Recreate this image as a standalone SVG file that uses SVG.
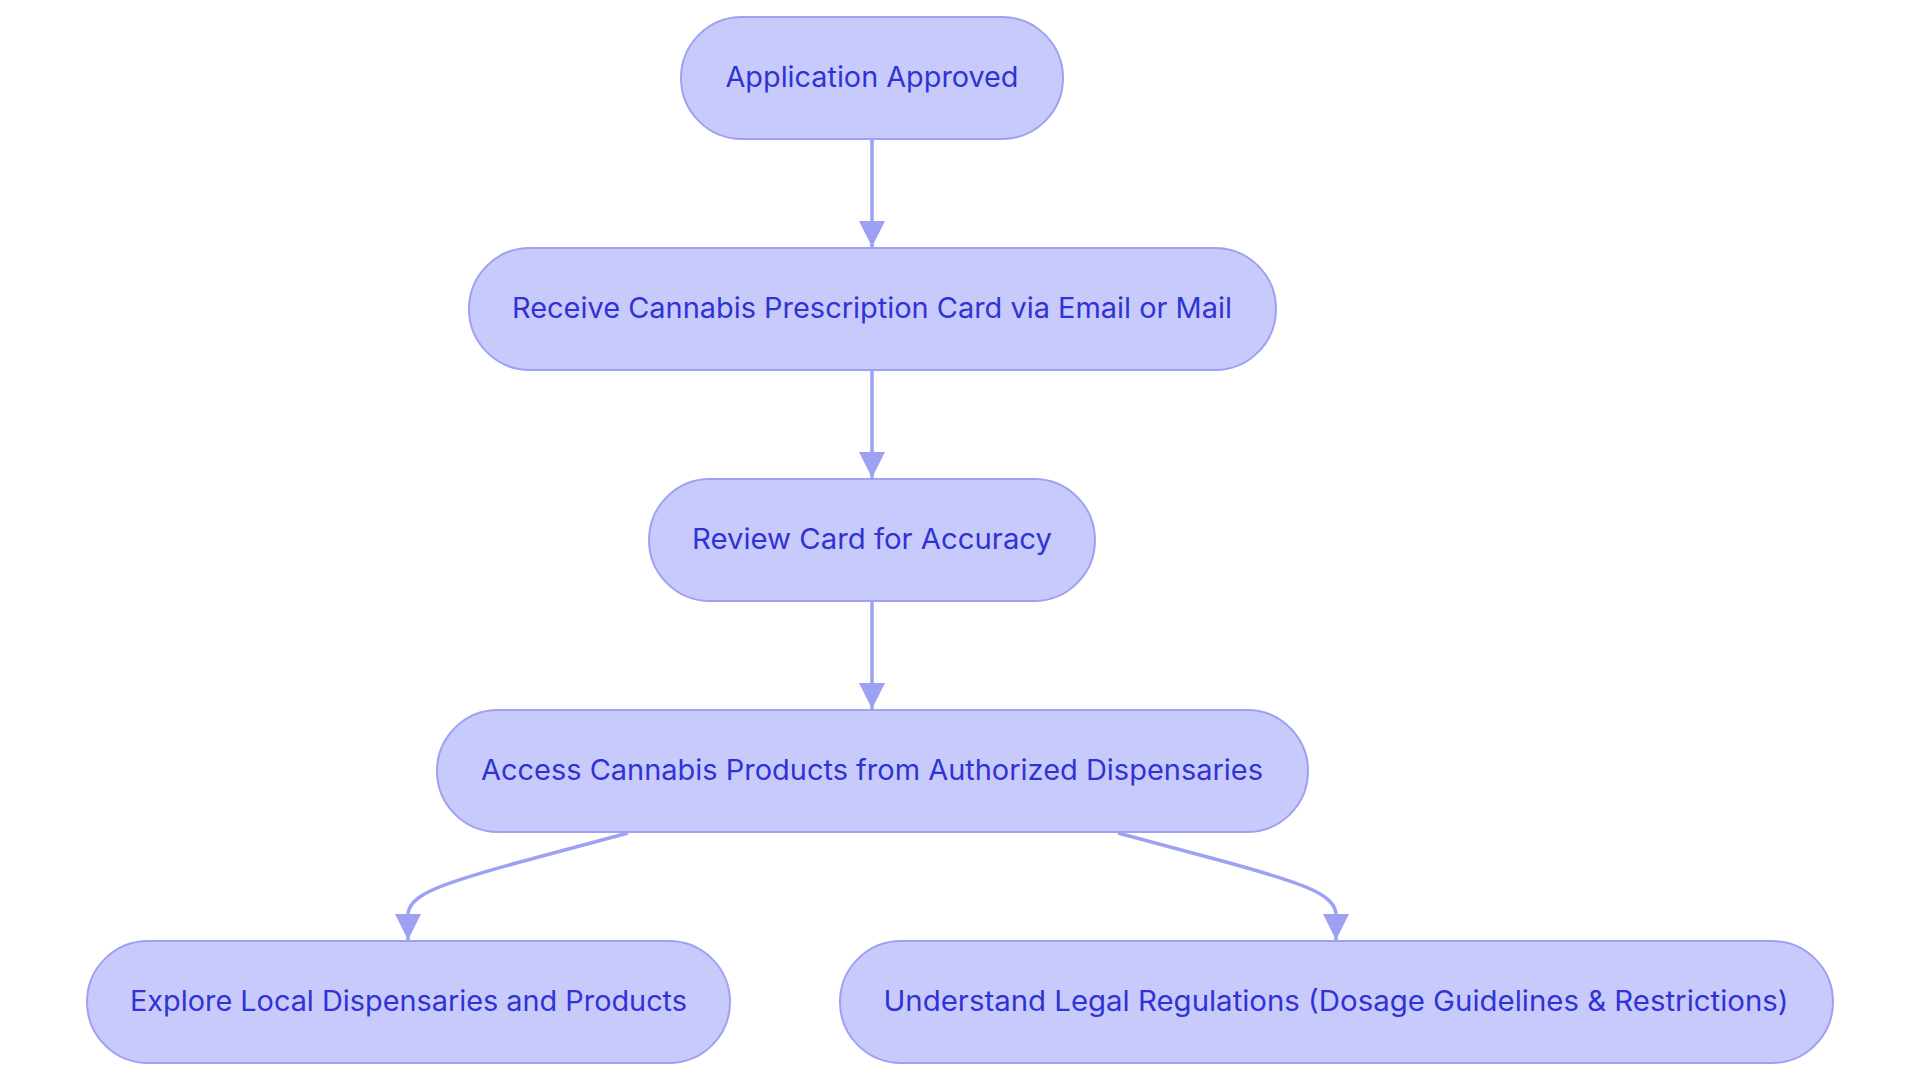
<svg xmlns="http://www.w3.org/2000/svg" width="1920" height="1083" viewBox="0 0 1920 1083">
<style>
.node rect{fill:#C9CAFC;stroke:#9EA1F1;stroke-width:2}
.node text{font-family:Inter,"Noto Sans","Liberation Sans",sans-serif;font-size:28px;fill:#2F33D3;text-anchor:middle}
.edge{fill:none;stroke:#9EA1F1;stroke-width:3.5}
</style>
<defs>
<marker id="arr" viewBox="0 0 10 10" refX="10" refY="5" markerUnits="userSpaceOnUse" markerWidth="26" markerHeight="27" orient="auto">
<path d="M0,0 L10,5 L0,10 z" fill="#9EA1F1"/>
</marker>
</defs>
<rect width="1920" height="1083" fill="#ffffff"/>
<g id="connectors">
<path class="edge" d="M872,139 L872,247" marker-end="url(#arr)"/>
<path class="edge" d="M872,370 L872,478" marker-end="url(#arr)"/>
<path class="edge" d="M872,601 L872,709" marker-end="url(#arr)"/>
<path class="edge" d="M628,833 L520,862 C440,884 408,895 408,915 L408,940" marker-end="url(#arr)"/>
<path class="edge" d="M1118,833 L1226,862 C1306,884 1336,895 1336,915 L1336,940" marker-end="url(#arr)"/>
</g>
<g id="node1" class="node">
<rect x="681" y="17" width="382" height="122" rx="61" ry="61"/>
<text x="872" y="87" textLength="293" lengthAdjust="spacingAndGlyphs">Application Approved</text>
</g>
<g id="node2" class="node">
<rect x="469" y="248" width="807" height="122" rx="61" ry="61"/>
<text x="872" y="318" textLength="720" lengthAdjust="spacingAndGlyphs">Receive Cannabis Prescription Card via Email or Mail</text>
</g>
<g id="node3" class="node">
<rect x="649" y="479" width="446" height="122" rx="61" ry="61"/>
<text x="872" y="549" textLength="360" lengthAdjust="spacingAndGlyphs">Review Card for Accuracy</text>
</g>
<g id="node4" class="node">
<rect x="437" y="710" width="871" height="122" rx="61" ry="61"/>
<text x="872" y="780" textLength="782" lengthAdjust="spacingAndGlyphs">Access Cannabis Products from Authorized Dispensaries</text>
</g>
<g id="node5" class="node">
<rect x="87" y="941" width="643" height="122" rx="61" ry="61"/>
<text x="408.5" y="1011" textLength="557" lengthAdjust="spacingAndGlyphs">Explore Local Dispensaries and Products</text>
</g>
<g id="node6" class="node">
<rect x="840" y="941" width="993" height="122" rx="61" ry="61"/>
<text x="1336" y="1011" textLength="905" lengthAdjust="spacingAndGlyphs">Understand Legal Regulations (Dosage Guidelines &amp; Restrictions)</text>
</g>
</svg>
